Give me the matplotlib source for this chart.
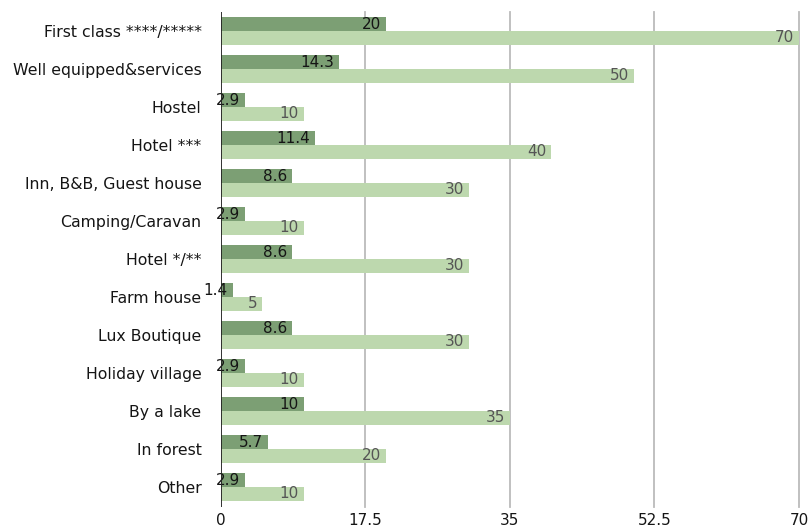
import numpy as np
import matplotlib.pyplot as plt

categories = ["First class ****/*****", "Well equipped&services", "Hostel", "Hotel ***",
              "Inn, B&B, Guest house", "Camping/Caravan", "Hotel */**", "Farm house",
              "Lux Boutique", "Holiday village", "By a lake", "In forest", "Other"]
share = [20, 14.3, 2.9, 11.4, 8.6, 2.9, 8.6, 1.4, 8.6, 2.9, 10, 5.7, 2.9]
count = [70, 50, 10, 40, 30, 10, 30, 5, 30, 10, 35, 20, 10]
xticks = [0, 17.5, 35, 52.5, 70]

plt.rcParams['font.family'] = ['DejaVu Sans']

fig = plt.figure(figsize=(8.08, 5.3), dpi=100)
ax = fig.add_axes([0.2735, 0.0434, 0.7153, 0.934])

y = np.arange(len(categories))
h = 0.36
dark = '#7c9f74'
light = '#bdd8ae'

ax.barh(y - h / 2, share, height=h, color=dark, zorder=2)
ax.barh(y + h / 2, count, height=h, color=light, zorder=2)

for yi, v in zip(y, share):
    ax.annotate(f"{v:g}", (v, yi - h / 2), xytext=(-3.5, 0), textcoords='offset points',
                ha='right', va='center', fontsize=11, color='#151515', zorder=3)
for yi, v in zip(y, count):
    ax.annotate(f"{v:g}", (v, yi + h / 2), xytext=(-3.5, 0), textcoords='offset points',
                ha='right', va='center', fontsize=11, color='#555555', zorder=3)

ax.set_xlim(0, 70)
ax.set_ylim(12.53, -0.5)
ax.set_xticks(xticks)
ax.set_xticklabels([f"{t:g}" for t in xticks])
ax.set_yticks(y)
ax.set_yticklabels(categories)
ax.tick_params(axis='both', length=0, colors='#151515')
ax.tick_params(axis='y', pad=14, labelsize=11.3)
ax.tick_params(axis='x', pad=4, labelsize=11)

for t in xticks[1:]:
    ax.axvline(t, color='#bbbbbb', lw=1.3, zorder=1, clip_on=False)
ax.axvline(0, color='#222222', lw=1.3, zorder=4)

for s in ax.spines.values():
    s.set_visible(False)

fig.savefig('out.png', dpi=100)
